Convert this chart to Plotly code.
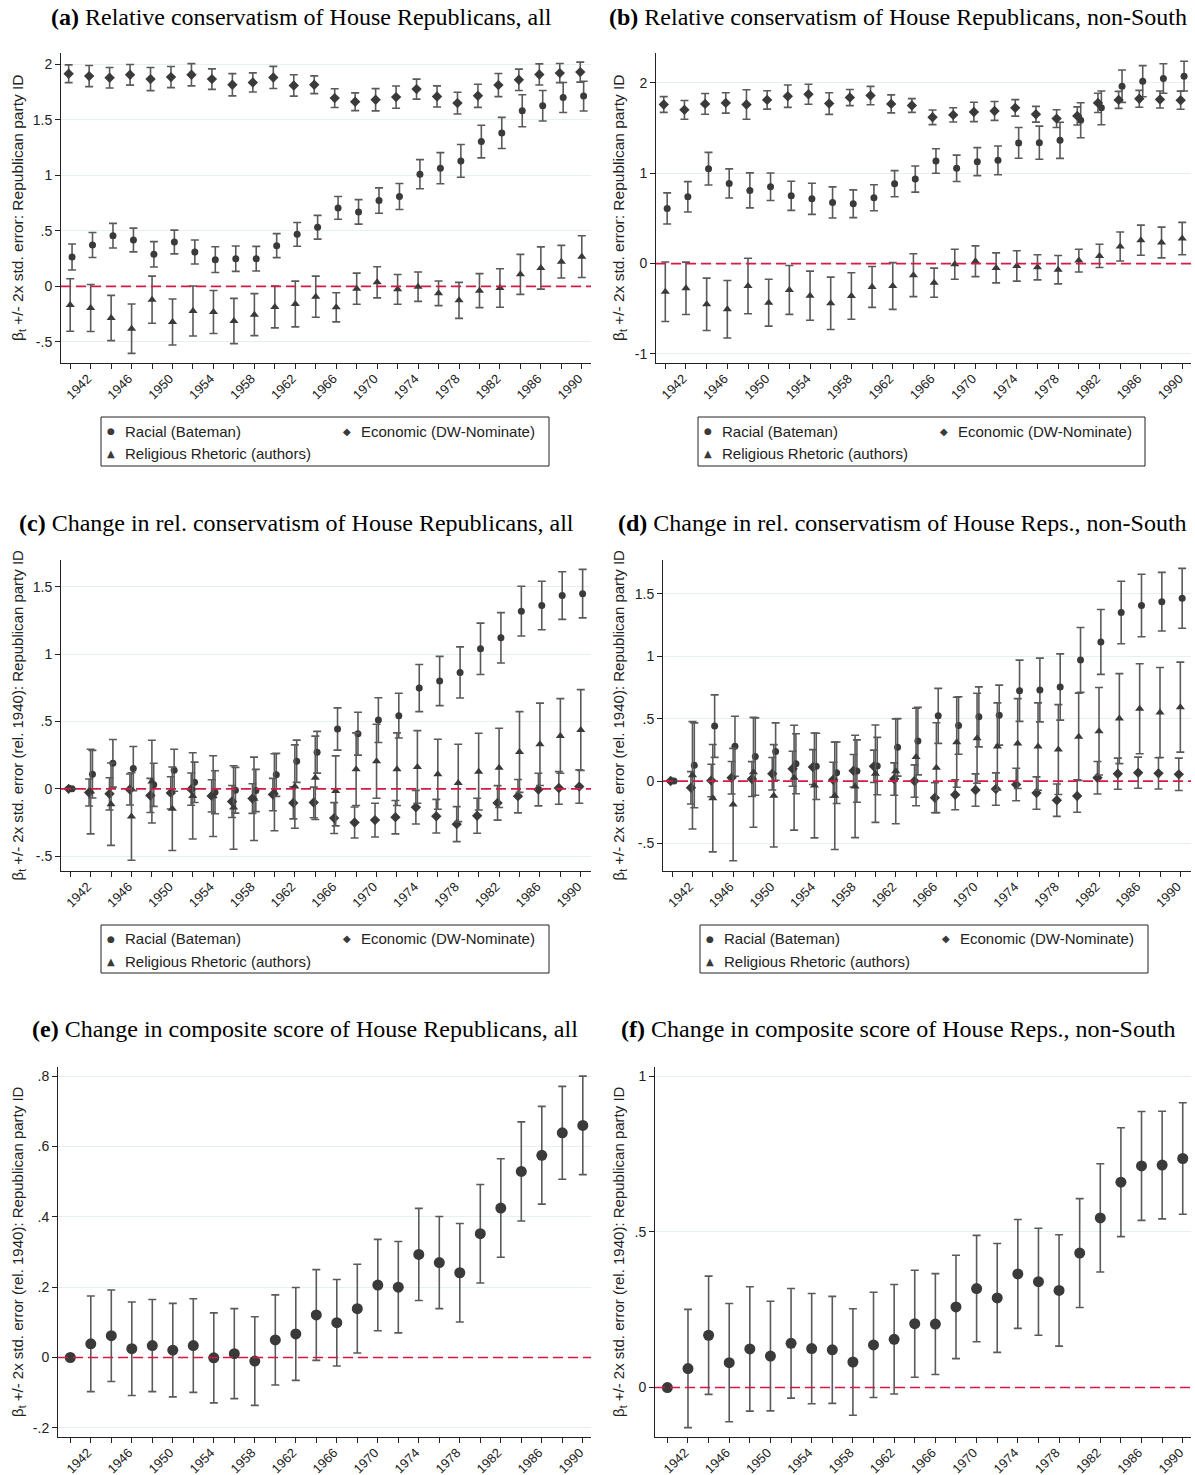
import plotly.graph_objects as go

W, H = 1195, 1475
years = list(range(1940, 1991, 2))
label_years = [y for y in years if (y - 1942) % 4 == 0]
minor_years = [y for y in years if (y - 1942) % 4 != 0]
tick_labels = [str(y) for y in label_years]

# ---------- Panel (a) ----------
a_racial = [0.264,0.372,0.456,0.417,0.288,0.399,0.309,0.240,0.249,0.249,0.366,0.468,0.532,0.706,0.670,0.772,0.808,1.009,1.063,1.129,1.303,1.381,1.580,1.625,1.700,1.712]
a_racial_err = [0.117,0.113,0.111,0.107,0.114,0.107,0.108,0.116,0.114,0.111,0.108,0.107,0.107,0.102,0.110,0.114,0.117,0.131,0.140,0.147,0.147,0.140,0.144,0.137,0.135,0.134]
a_econ = [1.913,1.892,1.877,1.904,1.865,1.883,1.904,1.865,1.814,1.835,1.880,1.808,1.814,1.694,1.661,1.679,1.703,1.775,1.709,1.649,1.715,1.811,1.859,1.907,1.919,1.928]
a_econ_err = [0.080,0.095,0.092,0.093,0.104,0.095,0.100,0.092,0.100,0.086,0.100,0.096,0.080,0.084,0.080,0.100,0.100,0.090,0.095,0.098,0.104,0.104,0.096,0.095,0.086,0.090]
a_relig = [-0.168,-0.195,-0.285,-0.381,-0.120,-0.321,-0.222,-0.231,-0.312,-0.255,-0.186,-0.159,-0.093,-0.189,-0.021,0.036,-0.027,-0.003,-0.063,-0.126,-0.039,-0.015,0.108,0.165,0.222,0.267]
a_relig_err = [0.236,0.212,0.204,0.222,0.212,0.207,0.225,0.194,0.204,0.189,0.188,0.206,0.185,0.131,0.140,0.140,0.134,0.132,0.111,0.162,0.153,0.173,0.180,0.190,0.147,0.188]

# ---------- Panel (b) ----------
b_racial = [0.610,0.739,1.050,0.887,0.810,0.850,0.750,0.717,0.677,0.662,0.728,0.884,0.935,1.135,1.054,1.128,1.142,1.335,1.338,1.364,1.586,1.723,1.963,2.018,2.048,2.074]
b_racial_err = [0.172,0.168,0.181,0.161,0.194,0.152,0.161,0.172,0.172,0.153,0.144,0.144,0.144,0.135,0.146,0.155,0.159,0.170,0.183,0.200,0.194,0.187,0.179,0.172,0.163,0.165]
b_econ = [1.760,1.701,1.767,1.778,1.760,1.811,1.852,1.874,1.771,1.837,1.859,1.767,1.749,1.619,1.645,1.678,1.689,1.723,1.652,1.604,1.634,1.778,1.811,1.823,1.815,1.808]
b_econ_err = [0.087,0.104,0.115,0.113,0.163,0.102,0.124,0.111,0.120,0.089,0.102,0.100,0.076,0.081,0.079,0.107,0.104,0.091,0.087,0.098,0.100,0.107,0.094,0.094,0.094,0.100]
b_relig = [-0.311,-0.274,-0.451,-0.506,-0.248,-0.433,-0.292,-0.355,-0.440,-0.359,-0.259,-0.248,-0.129,-0.211,-0.007,0.026,-0.048,-0.026,-0.041,-0.067,0.033,0.085,0.189,0.259,0.233,0.277]
b_relig_err = [0.329,0.290,0.290,0.318,0.307,0.259,0.270,0.272,0.290,0.257,0.226,0.259,0.237,0.161,0.166,0.170,0.166,0.168,0.139,0.157,0.126,0.129,0.161,0.166,0.170,0.179]

# ---------- Panel (c) ----------
c_racial = [0,0.109,0.190,0.151,0.030,0.138,0.049,-0.025,-0.010,-0.012,0.104,0.205,0.272,0.445,0.410,0.511,0.544,0.749,0.801,0.865,1.040,1.122,1.320,1.362,1.436,1.450]
c_racial_err = [0,0.177,0.177,0.164,0.160,0.156,0.150,0.160,0.170,0.157,0.160,0.157,0.155,0.157,0.159,0.166,0.166,0.175,0.183,0.190,0.191,0.187,0.185,0.180,0.177,0.180]
c_econ = [0,-0.027,-0.037,-0.005,-0.049,-0.030,-0.002,-0.052,-0.094,-0.072,-0.042,-0.104,-0.101,-0.217,-0.250,-0.232,-0.210,-0.136,-0.203,-0.262,-0.200,-0.104,-0.054,-0.005,0.007,0.017]
c_econ_err = [0,0.100,0.120,0.115,0.127,0.120,0.120,0.120,0.119,0.110,0.120,0.119,0.114,0.115,0.115,0.125,0.124,0.125,0.125,0.130,0.130,0.128,0.124,0.121,0.121,0.124]
c_relig = [0,-0.020,-0.114,-0.205,0.054,-0.148,-0.052,-0.054,-0.138,-0.074,-0.025,0.017,0.082,-0.015,0.146,0.205,0.146,0.163,0.109,0.044,0.128,0.156,0.274,0.331,0.393,0.437]
c_relig_err = [0,0.314,0.306,0.325,0.307,0.310,0.320,0.300,0.310,0.310,0.286,0.310,0.310,0.260,0.270,0.275,0.270,0.270,0.260,0.287,0.285,0.294,0.300,0.306,0.277,0.300]

# ---------- Panel (d) ----------
d_racial = [0,0.126,0.440,0.279,0.196,0.236,0.139,0.118,0.067,0.080,0.120,0.270,0.320,0.522,0.445,0.514,0.528,0.723,0.729,0.753,0.970,1.114,1.350,1.406,1.436,1.463]
d_racial_err = [0,0.340,0.250,0.240,0.310,0.230,0.240,0.265,0.246,0.250,0.230,0.230,0.270,0.220,0.230,0.240,0.240,0.245,0.255,0.265,0.260,0.260,0.250,0.250,0.235,0.240]
d_econ = [0,-0.054,0.005,0.027,0.016,0.059,0.099,0.112,0.011,0.083,0.118,0.016,0.000,-0.134,-0.110,-0.072,-0.064,-0.027,-0.096,-0.153,-0.120,0.027,0.059,0.067,0.062,0.054]
d_econ_err = [0,0.130,0.130,0.130,0.140,0.130,0.140,0.140,0.140,0.130,0.130,0.130,0.130,0.120,0.120,0.130,0.130,0.130,0.130,0.130,0.130,0.130,0.125,0.125,0.125,0.130]
d_relig = [0,0.046,-0.137,-0.188,0.070,-0.118,0.027,-0.035,-0.118,-0.043,0.059,0.078,0.193,0.107,0.311,0.343,0.276,0.300,0.276,0.252,0.354,0.399,0.500,0.579,0.549,0.592]
d_relig_err = [0,0.430,0.430,0.450,0.440,0.410,0.420,0.420,0.430,0.410,0.390,0.420,0.390,0.360,0.360,0.360,0.350,0.360,0.350,0.360,0.350,0.350,0.360,0.360,0.360,0.360]

# ---------- Panel (e) ----------
e_comp = [0,0.039,0.062,0.025,0.034,0.021,0.034,-0.001,0.011,-0.010,0.050,0.067,0.121,0.099,0.139,0.206,0.200,0.293,0.270,0.241,0.352,0.425,0.529,0.575,0.639,0.660]
e_comp_err = [0,0.136,0.130,0.133,0.131,0.133,0.133,0.128,0.128,0.126,0.128,0.132,0.129,0.123,0.126,0.130,0.130,0.131,0.131,0.140,0.140,0.140,0.141,0.139,0.132,0.140]

# ---------- Panel (f) ----------
f_comp = [0,0.061,0.168,0.080,0.124,0.101,0.142,0.125,0.121,0.082,0.137,0.155,0.205,0.204,0.259,0.318,0.288,0.365,0.340,0.312,0.432,0.545,0.660,0.712,0.715,0.736]
f_comp_err = [0,0.190,0.190,0.190,0.200,0.176,0.176,0.177,0.172,0.171,0.169,0.176,0.172,0.162,0.166,0.171,0.175,0.175,0.172,0.179,0.175,0.174,0.175,0.175,0.173,0.179]

titles = [
    "<b>(a)</b> Relative conservatism of House Republicans, all",
    "<b>(b)</b> Relative conservatism of House Republicans, non-South",
    "<b>(c)</b> Change in rel. conservatism of House Republicans, all",
    "<b>(d)</b> Change in rel. conservatism of House Reps., non-South",
    "<b>(e)</b> Change in composite score of House Republicans, all",
    "<b>(f)</b> Change in composite score of House Reps., non-South",
]
ytitle_abs = "β<sub>t</sub> +/- 2x std. error: Republican party ID"
ytitle_rel = "β<sub>t</sub> +/- 2x std. error (rel. 1940): Republican party ID"
legend_names = ["Racial (Bateman)", "Economic (DW-Nominate)", "Religious Rhetoric (authors)"]

# ---------- styling / layout (pixel boxes) ----------
MARK = "#3a3a3a"
BAR = "#5a5a5a"
RED = "#d41a45"
GRID = "#e7eff1"
SANS = "Liberation Sans, Arial, sans-serif"
SERIF = "Liberation Serif, Times New Roman, serif"

def fx(px):
    return px / W

def fy(py):
    return 1 - py / H

panels = [
    dict(box=(61, 591, 53, 363), xr=[1939.1, 1990.9], yr=[-0.69, 2.10],
         tv=[-0.5, 0, 0.5, 1, 1.5, 2], tt=["-.5", "0", ".5", "1", "1.5", "2"], yt=ytitle_abs, tx=301, ty=17, ytx=18, yts=15.5),
    dict(box=(656, 1191, 53, 363), xr=[1939.1, 1990.85], yr=[-1.10, 2.33],
         tv=[-1, 0, 1, 2], tt=["-1", "0", "1", "2"], yt=ytitle_abs, tx=898, ty=17, ytx=619, yts=15.5),
    dict(box=(61, 591, 560, 871), xr=[1939.1, 1991.0], yr=[-0.61, 1.70],
         tv=[-0.5, 0, 0.5, 1, 1.5], tt=["-.5", "0", ".5", "1", "1.5"], yt=ytitle_rel, tx=296, ty=523, ytx=18, yts=15),
    dict(box=(663, 1191, 560, 871), xr=[1939.1, 1991.05], yr=[-0.72, 1.77],
         tv=[-0.5, 0, 0.5, 1, 1.5], tt=["-.5", "0", ".5", "1", "1.5"], yt=ytitle_rel, tx=902, ty=523, ytx=619, yts=15),
    dict(box=(58, 591, 1067, 1437), xr=[1938.8, 1990.8], yr=[-0.226, 0.826],
         tv=[-0.2, 0, 0.2, 0.4, 0.6, 0.8], tt=["-.2", "0", ".2", ".4", ".6", ".8"], yt=ytitle_rel, tx=305, ty=1029, ytx=18, yts=15),
    dict(box=(655, 1191, 1067, 1437), xr=[1938.8, 1990.8], yr=[-0.159, 1.03],
         tv=[0, 0.5, 1], tt=["0", ".5", "1"], yt=ytitle_rel, tx=898, ty=1029, ytx=619, yts=15),
]

series_sets = [
    [(a_racial, a_racial_err), (a_econ, a_econ_err), (a_relig, a_relig_err)],
    [(b_racial, b_racial_err), (b_econ, b_econ_err), (b_relig, b_relig_err)],
    [(c_racial, c_racial_err), (c_econ, c_econ_err), (c_relig, c_relig_err)],
    [(d_racial, d_racial_err), (d_econ, d_econ_err), (d_relig, d_relig_err)],
    [(e_comp, e_comp_err)],
    [(f_comp, f_comp_err)],
]
symbols = ["circle", "diamond", "triangle-up"]
sizes = [7, 8, 8]
offsets = [0.18, -0.15, 0.0]

fig = go.Figure()
layout = dict(width=W, height=H, margin=dict(l=0, r=0, t=0, b=0), autosize=False,
              paper_bgcolor="white", plot_bgcolor="white", showlegend=False,
              shapes=[], annotations=[])

for i, p in enumerate(panels):
    n = i + 1
    xa = "x" if n == 1 else f"x{n}"
    ya = "y" if n == 1 else f"y{n}"
    x0, x1, y0, y1 = p["box"]
    layout["xaxis" if n == 1 else f"xaxis{n}"] = dict(
        domain=[fx(x0), fx(x1)], range=p["xr"], anchor=ya,
        tickmode="array", tickvals=label_years, ticktext=tick_labels, tickangle=-45,
        ticks="outside", ticklen=5, tickwidth=1, tickcolor="#222",
        minor=dict(tickmode="array", tickvals=minor_years, ticks="outside", ticklen=5,
                   tickwidth=1, tickcolor="#222", showgrid=False),
        ticklabelshift=-3, ticklabelstandoff=-3,
        showline=True, linecolor="#222", linewidth=1, showgrid=False, zeroline=False,
        tickfont=dict(family=SANS, size=13, color="#222"), automargin=False)
    layout["yaxis" if n == 1 else f"yaxis{n}"] = dict(
        domain=[fy(y1), fy(y0)], range=p["yr"], anchor=xa,
        tickmode="array", tickvals=p["tv"], ticktext=p["tt"],
        ticks="outside", ticklen=5, tickwidth=1, tickcolor="#222",
        showline=True, linecolor="#222", linewidth=1, showgrid=True, gridcolor=GRID, gridwidth=1,
        zeroline=False, tickfont=dict(family=SANS, size=14, color="#222"), automargin=False)

    layout["shapes"].append(dict(type="line", xref=f"{xa} domain", yref=ya, x0=0, x1=1, y0=0, y1=0,
                                 line=dict(color=RED, width=1.7, dash="10px,5px"), layer="above"))

    sets = series_sets[i]
    for k, (vals, errs) in enumerate(sets):
        if len(sets) == 1:
            sym, sz, off = "circle", 11, 0.0
        else:
            sym, sz, off = symbols[k], sizes[k], offsets[k]
        fig.add_trace(go.Scatter(
            x=[y + off for y in years], y=vals, mode="markers", xaxis=xa, yaxis=ya,
            marker=dict(symbol=sym, size=sz, color=MARK, line=dict(width=0)),
            error_y=dict(type="data", array=errs, visible=True, color=BAR, thickness=1.6, width=4),
            name=legend_names[k] if len(sets) > 1 else "Composite",
        ))

    layout["annotations"].append(dict(text=titles[i], xref="paper", yref="paper", x=fx(p["tx"]), y=fy(p["ty"]),
                                      xanchor="center", yanchor="middle", showarrow=False,
                                      font=dict(family=SERIF, size=24, color="black")))
    layout["annotations"].append(dict(text=p["yt"], xref="paper", yref="paper", x=fx(p["ytx"]),
                                      y=fy((y0 + y1) / 2), xanchor="center", yanchor="middle",
                                      textangle=-90, showarrow=False,
                                      font=dict(family=SANS, size=p["yts"], color="#222")))

# ---------- legends for panels a-d ----------
legend_boxes = [(101, 549, 417, 466), (698, 1145, 417, 466), (101, 549, 925, 973), (700, 1148, 925, 973)]
glyphs = ["●", "◆", "▲"]
for (lx0, lx1, ly0, ly1) in legend_boxes:
    layout["shapes"].append(dict(type="rect", xref="paper", yref="paper", x0=fx(lx0), x1=fx(lx1),
                                 y0=fy(ly1), y1=fy(ly0), line=dict(color="#222", width=1),
                                 fillcolor="white"))
    r1 = ly0 + 14
    r2 = ly0 + 36
    pos = [(lx0 + 10, r1), (lx0 + 246, r1), (lx0 + 10, r2)]
    for k, (gx, gy) in enumerate(pos):
        layout["annotations"].append(dict(text=glyphs[k], xref="paper", yref="paper", x=fx(gx), y=fy(gy),
                                          xanchor="center", yanchor="middle", showarrow=False,
                                          font=dict(family="DejaVu Sans", size=9 if k == 0 else 10, color=MARK)))
        layout["annotations"].append(dict(text=legend_names[k], xref="paper", yref="paper", x=fx(gx + 12),
                                          y=fy(gy), xanchor="left", yanchor="middle", showarrow=False,
                                          font=dict(family=SANS, size=15, color="#222")))

fig.update_layout(**layout)
fig.write_html("out.html", config={"displayModeBar": False},
               post_script="document.body.style.margin='0px';document.body.style.padding='0px';"
                           "document.body.style.overflow='hidden';")
